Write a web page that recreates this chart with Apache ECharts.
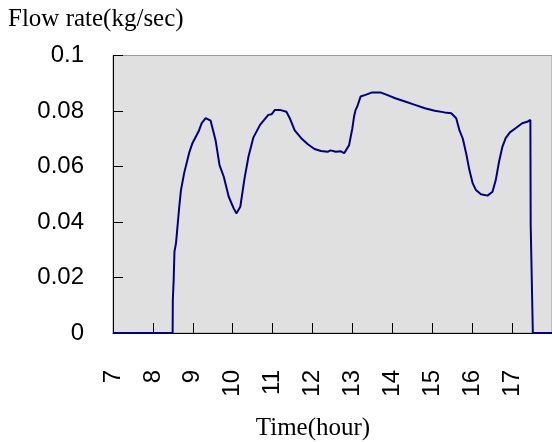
<!DOCTYPE html>
<html>
<head>
<meta charset="utf-8">
<title>Flow rate</title>
<script src="https://cdn.jsdelivr.net/npm/echarts@6/dist/echarts.min.js"></script>
<style>
  html, body { margin: 0; padding: 0; background: #ffffff; }
  #chart { width: 552px; height: 442px; }
</style>
</head>
<body>
<div id="chart"></div>
<script>
// time of day (hour) and measured flow (kg/sec)
const hours = [
  7.0, 8.494, 8.499, 8.52, 8.54, 8.579, 8.66, 8.703, 8.784, 8.908, 8.99,
  9.156, 9.223, 9.322, 9.446, 9.57, 9.669, 9.776, 9.9, 10.024, 10.09,
  10.19, 10.296, 10.395, 10.519, 10.685, 10.891, 10.973, 11.057, 11.181, 11.345,
  11.429, 11.553, 11.716, 11.882, 12.048, 12.212, 12.378, 12.45, 12.584, 12.7,
  12.792, 12.916, 12.956, 12.998, 13.04, 13.079, 13.121, 13.203, 13.327, 13.493,
  13.699, 13.865, 14.071, 14.318, 14.566, 14.814, 15.062, 15.31, 15.476, 15.6,
  15.682, 15.766, 15.848, 15.93, 16.014, 16.095, 16.219, 16.385, 16.509, 16.591,
  16.673, 16.757, 16.839, 16.945, 17.087, 17.253, 17.377, 17.458, 17.466, 17.52,
  18.0
];
const flow = [
  0, 0, 0.0119, 0.019, 0.0293, 0.0324, 0.0455, 0.0515, 0.0577, 0.0649, 0.0684,
  0.073, 0.0756, 0.0774, 0.0765, 0.0695, 0.0605, 0.0563, 0.0491, 0.0449, 0.0431,
  0.0455, 0.0557, 0.0636, 0.0705, 0.075, 0.0786, 0.0788, 0.0804, 0.0804, 0.0797,
  0.0774, 0.073, 0.0702, 0.068, 0.0663, 0.0656, 0.0653, 0.0658, 0.0653, 0.0655,
  0.0648, 0.0677, 0.0707, 0.0738, 0.078, 0.0804, 0.0816, 0.0852, 0.0858, 0.0867,
  0.0867, 0.0858, 0.0846, 0.0834, 0.0822, 0.081, 0.0801, 0.0795, 0.0792, 0.0774,
  0.073, 0.070, 0.0648, 0.0587, 0.0539, 0.0515, 0.05, 0.0495, 0.0509, 0.0551,
  0.0617, 0.0671, 0.0702, 0.0723, 0.0738, 0.0756, 0.0761, 0.0768, 0.0389, 0,
  0
];

const chart = echarts.init(document.getElementById('chart'));

chart.setOption({
  animation: false,
  title: {
    text: 'Flow rate(kg/sec)',
    left: 8,
    top: 7,
    padding: 0,
    textStyle: {
      fontFamily: 'Liberation Serif',
      fontSize: 25,
      fontWeight: 'normal',
      color: '#000000'
    }
  },
  graphic: [{
    type: 'text',
    x: 313,
    y: 428,
    style: {
      text: 'Time(hour)',
      fontFamily: 'Liberation Serif',
      fontSize: 25,
      fill: '#000000',
      align: 'center',
      verticalAlign: 'middle'
    }
  }],
  grid: {
    left: 113,
    top: 55.5,
    bottom: 109,
    right: -5,
    show: true,
    backgroundColor: '#e0e0e0',
    borderColor: '#9a9a9a',
    borderWidth: 1
  },
  xAxis: {
    type: 'value',
    min: 7,
    max: 18,
    interval: 1,
    splitLine: { show: false },
    axisLine: { show: true, lineStyle: { color: '#000000', width: 1 } },
    axisTick: { show: true, inside: true, length: 10, lineStyle: { color: '#000000' } },
    axisLabel: {
      rotate: 90,
      margin: 37,
      padding: [0, 0, 8, 0],
      showMaxLabel: false,
      fontFamily: 'Liberation Sans',
      fontSize: 24,
      color: '#000000'
    }
  },
  yAxis: {
    type: 'value',
    min: 0,
    max: 0.1,
    interval: 0.02,
    splitLine: { show: false },
    axisLine: { show: true, lineStyle: { color: '#000000', width: 1 } },
    axisTick: { show: true, inside: true, length: 10, lineStyle: { color: '#000000' } },
    axisLabel: {
      margin: 29,
      fontFamily: 'Liberation Sans',
      fontSize: 24,
      color: '#000000',
      formatter: v => String(Math.round(v * 100) / 100)
    }
  },
  series: [{
    type: 'line',
    data: hours.map((h, i) => [h, flow[i]]),
    showSymbol: false,
    symbol: 'none',
    lineStyle: { color: '#000080', width: 2 },
    clip: true
  }]
});
</script>
</body>
</html>
